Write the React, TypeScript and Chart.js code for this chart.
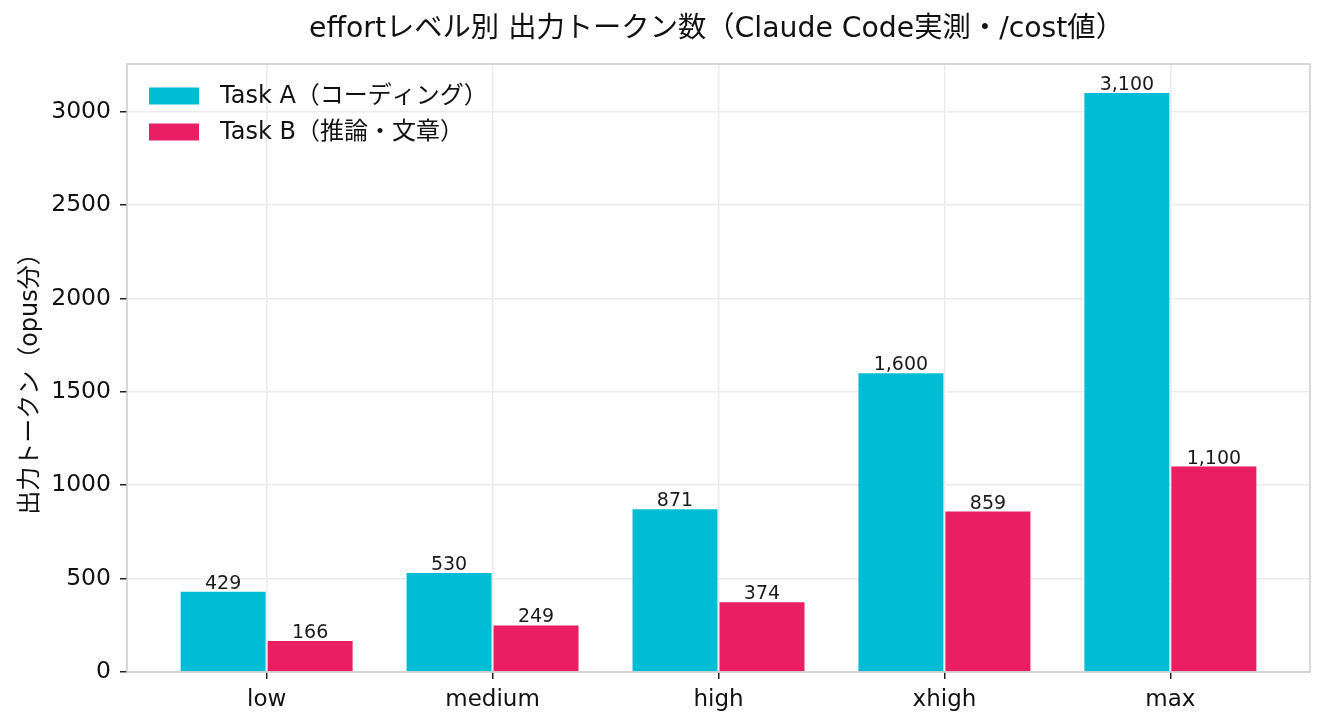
import React, { useEffect, useRef } from "react";
import { Chart, registerables } from "chart.js";

Chart.register(...registerables);

const categories = ["low", "medium", "high", "xhigh", "max"];
const taskA = [429, 530, 871, 1600, 3100];
const taskB = [166, 249, 374, 859, 1100];
const seriesNames = ["Task A（コーディング）", "Task B（推論・文章）"];
const colors = ["#00BCD4", "#E91E63"];
const yTicks = [0, 500, 1000, 1500, 2000, 2500, 3000];
const titleText = "effortレベル別 出力トークン数（Claude Code実測・/cost値）";
const yTitle = "出力トークン（opus分）";

const FONT = "'DejaVu Sans', 'Noto Sans CJK JP', sans-serif";

const overlayPlugin = {
  id: "overlay",
  afterDraw(chart: any) {
    const { ctx, chartArea } = chart;
    ctx.save();
    // frame
    ctx.strokeStyle = "#cccccc";
    ctx.lineWidth = 1.5;
    ctx.strokeRect(chartArea.left, chartArea.top, chartArea.right - chartArea.left, chartArea.bottom - chartArea.top);
    // value labels
    ctx.fillStyle = "#1a1a1a";
    ctx.font = `19px ${FONT}`;
    ctx.textAlign = "center";
    ctx.textBaseline = "alphabetic";
    chart.data.datasets.forEach((ds: any, di: number) => {
      const meta = chart.getDatasetMeta(di);
      meta.data.forEach((bar: any, i: number) => {
        const v = ds.data[i].y;
        ctx.fillText(v.toLocaleString("en-US"), bar.x, bar.y - 3);
      });
    });
    // title
    ctx.fillStyle = "#111";
    ctx.font = `28.3px ${FONT}`;
    ctx.textBaseline = "middle";
    ctx.fillText(titleText, (chartArea.left + chartArea.right) / 2 - 2, 30);
    // y title
    ctx.save();
    ctx.translate(31, (chartArea.top + chartArea.bottom) / 2 + 10);
    ctx.rotate(-Math.PI / 2);
    ctx.font = `24px ${FONT}`;
    ctx.fillText(yTitle, 0, 0);
    ctx.restore();
    // legend
    ctx.textAlign = "left";
    ctx.font = `24px ${FONT}`;
    seriesNames.forEach((n, i) => {
      const y = 96 + i * 36;
      ctx.fillStyle = colors[i];
      ctx.fillRect(149, y - 8.5, 50, 17);
      ctx.fillStyle = "#111";
      ctx.fillText(n, 220, y + 1);
    });
    ctx.restore();
  },
};

export default function App() {
  const ref = useRef<HTMLCanvasElement>(null);
  useEffect(() => {
    document.body.style.margin = "0";
    const mk = (arr: number[]) => arr.map((y, i) => ({ x: i, y }));
    const chart = new Chart(ref.current!, {
      type: "bar",
      data: {
        datasets: [
          { label: seriesNames[0], data: mk(taskA), backgroundColor: colors[0], categoryPercentage: 0.77, barPercentage: 0.977 },
          { label: seriesNames[1], data: mk(taskB), backgroundColor: colors[1], categoryPercentage: 0.77, barPercentage: 0.977 },
        ] as any,
      },
      options: {
        animation: false,
        responsive: false,
        maintainAspectRatio: false,
        layout: { padding: { top: 64, right: 16, left: 0, bottom: 0 } },
        plugins: { legend: { display: false }, tooltip: { enabled: false }, title: { display: false } },
        scales: {
          x: {
            type: "linear",
            min: -0.618,
            max: 4.618,
            offset: false,
            z: 1,
            afterBuildTicks: (s: any) => {
              s.ticks = categories.map((_, i) => ({ value: i }));
            },
            afterFit: (s: any) => {
              s.height = 54;
            },
            ticks: {
              callback: (v: any) => categories[Math.round(v)] ?? "",
              color: "#111",
              font: { family: FONT, size: 23 },
              padding: 7,
              maxRotation: 0,
              autoSkip: false,
            },
            grid: { offset: false, color: "#ebebeb", lineWidth: 1.5, tickColor: "#222", tickLength: 7, drawTicks: true },
            border: { display: false },
          },
          y: {
            min: 0,
            max: 3255,
            z: 1,
            afterBuildTicks: (s: any) => {
              s.ticks = yTicks.map((v) => ({ value: v }));
            },
            afterFit: (s: any) => {
              s.width = 127;
            },
            ticks: {
              callback: (v: any) => String(v),
              color: "#111",
              font: { family: FONT, size: 23.5 },
              padding: 9,
            },
            grid: { color: "#ebebeb", lineWidth: 1.5, tickColor: "#222", tickLength: 7, drawTicks: true },
            border: { display: false },
          },
        },
      },
      plugins: [overlayPlugin],
    } as any);
    return () => chart.destroy();
  }, []);
  return (
    <div style={{ width: 1326, height: 726 }}>
      <canvas ref={ref} width={1326} height={726} style={{ display: "block" }} />
    </div>
  );
}
